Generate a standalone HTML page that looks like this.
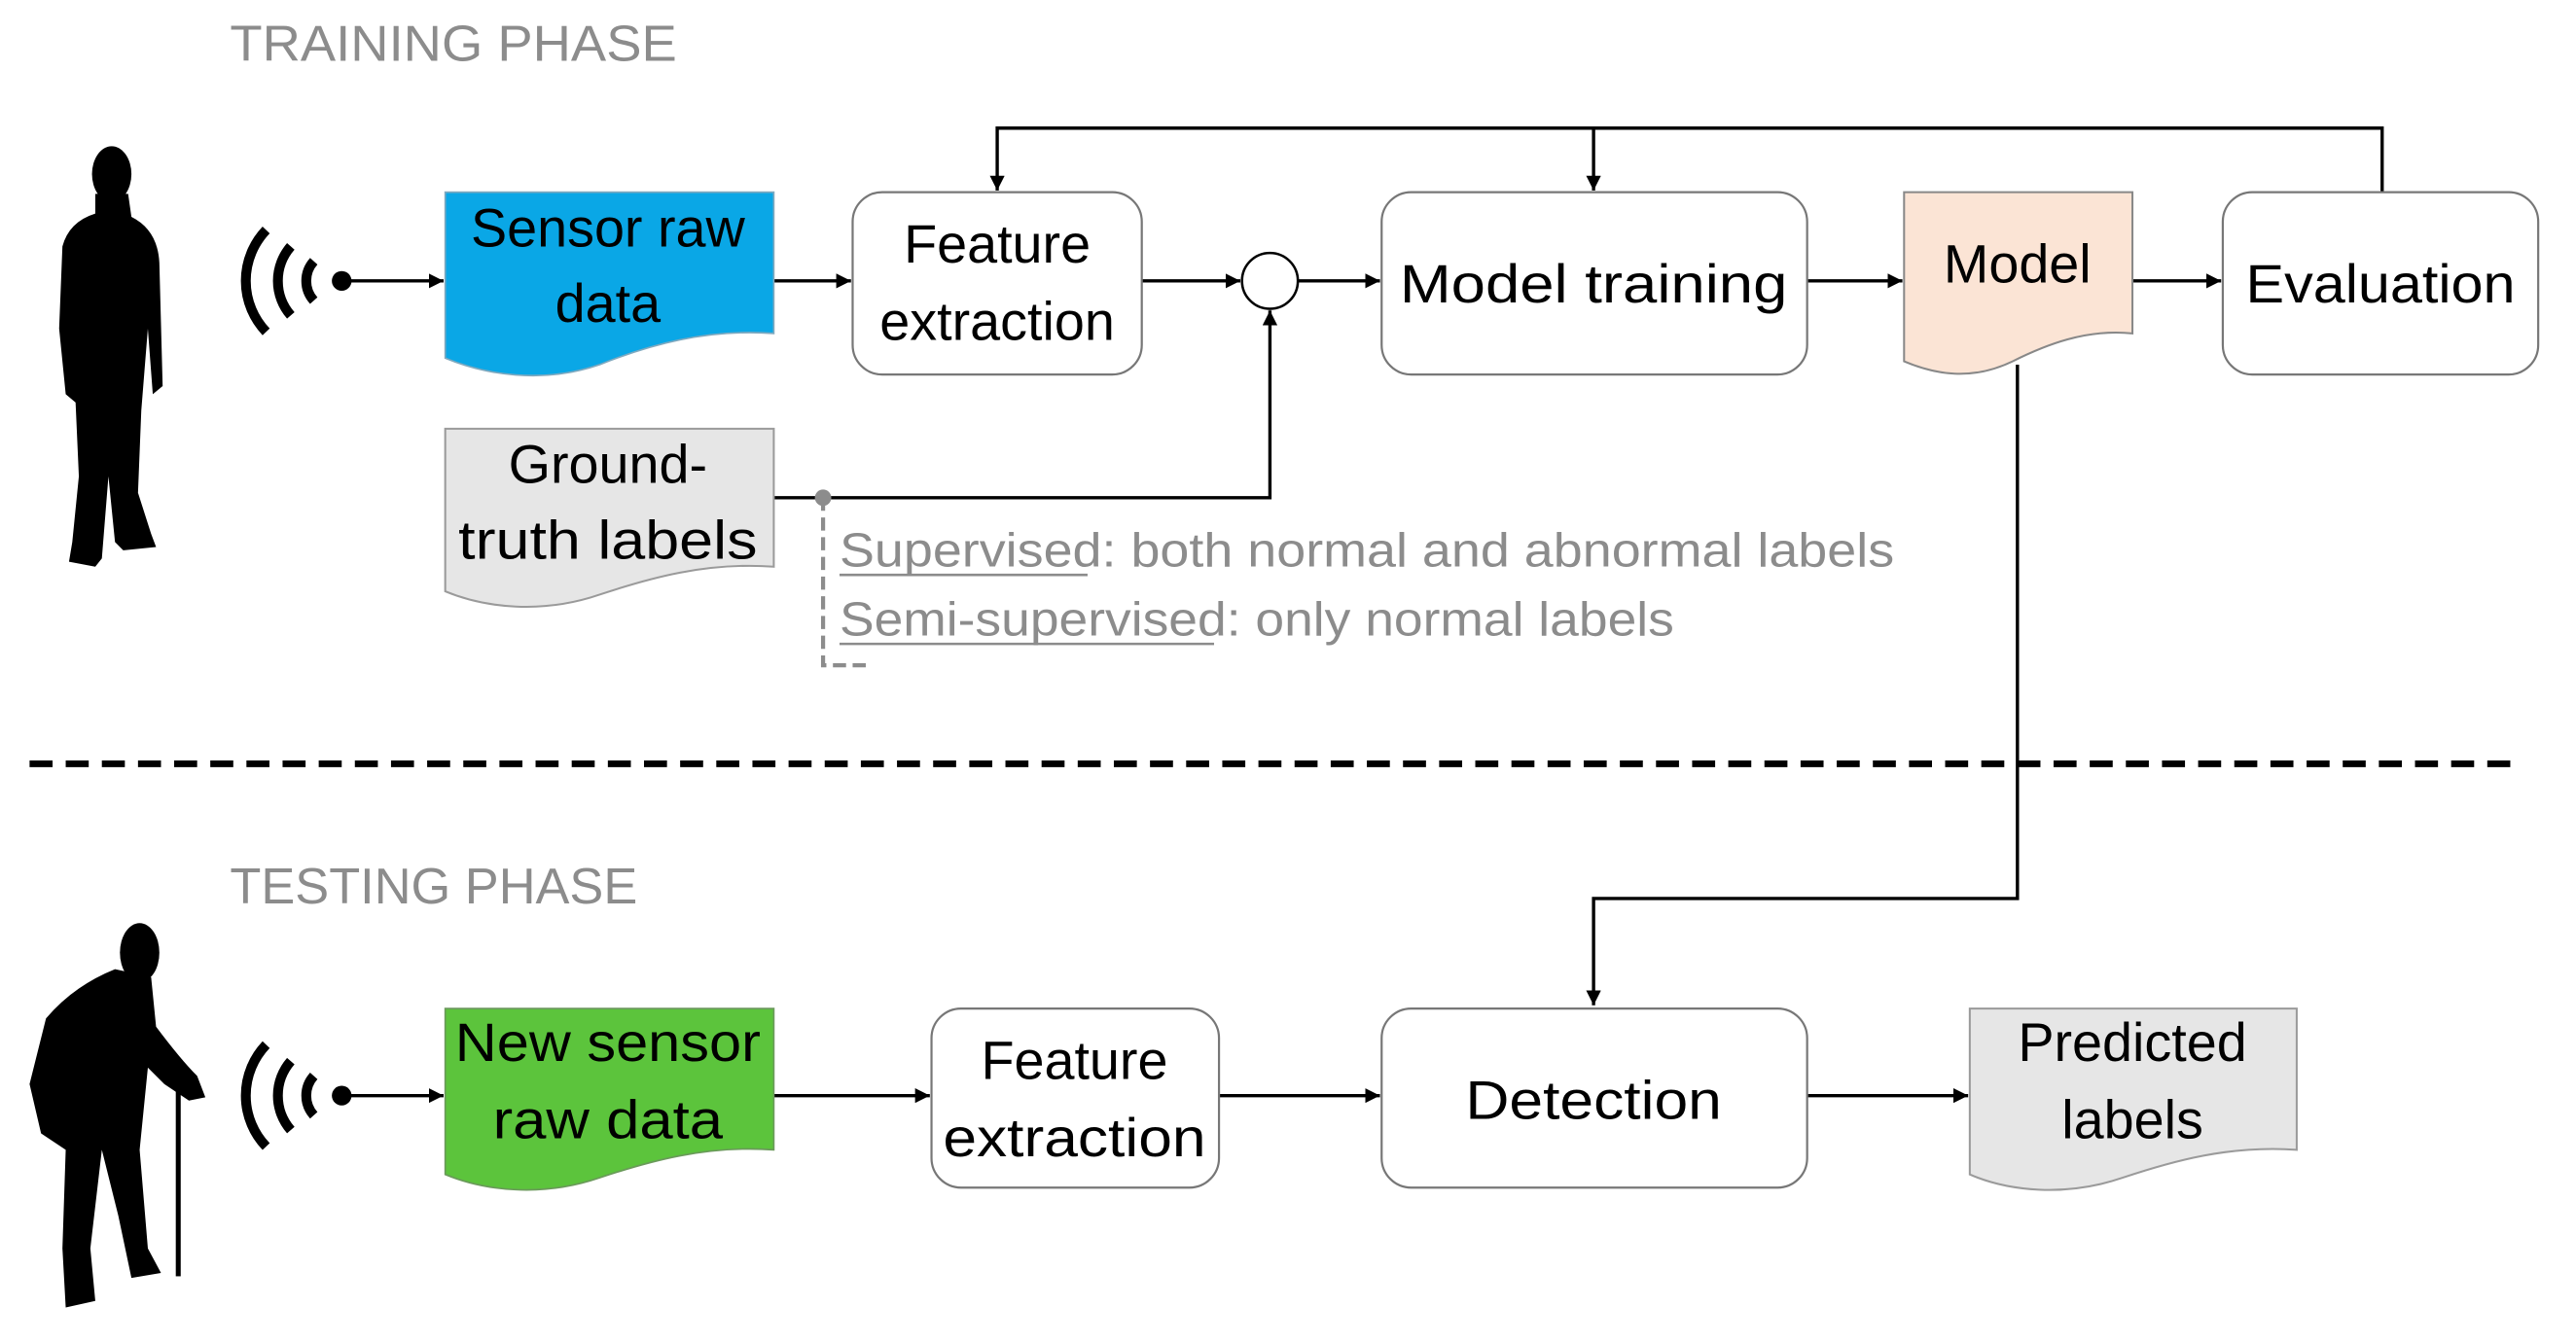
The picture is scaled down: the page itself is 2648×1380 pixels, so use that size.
<!DOCTYPE html>
<html><head><meta charset="utf-8"><style>
html,body{margin:0;padding:0;background:#fff;}
svg{display:block;}
text{font-family:"Liberation Sans",sans-serif;}
</style></head><body>
<svg width="2648" height="1380" viewBox="0 0 1568 817" preserveAspectRatio="none" xmlns="http://www.w3.org/2000/svg">
<defs>
<marker id="ar" viewBox="0 0 10 10" refX="10" refY="5" markerWidth="9" markerHeight="9" markerUnits="userSpaceOnUse" orient="auto"><path d="M0,0 L10,5 L0,10 Z" fill="#000"/></marker>
</defs>
<rect width="1568" height="817" fill="#fff"/>

<text x="140" y="37" font-size="31" fill="#8c8c8c" textLength="272" lengthAdjust="spacingAndGlyphs">TRAINING PHASE</text>
<text x="140" y="550" font-size="31" fill="#8c8c8c" textLength="248" lengthAdjust="spacingAndGlyphs">TESTING PHASE</text>

<!-- standing person -->
<g fill="#000">
<ellipse cx="68" cy="106" rx="12" ry="17"/>
<path d="M58,118 L78,118 L80,132 Q96,140 97,160 L99,235 L93,240 L90,200 L86,250 L84,300 L92,325 L95,333 L75,335 L70,330 L66,290 L62,340 L58,345 L42,342 L44,330 L48,290 L46,245 L40,240 L36,200 L38,150 Q42,135 58,130 Z"/>
</g>
<!-- bent old man -->
<g fill="#000">
<ellipse cx="85" cy="580" rx="12" ry="18"/>
<path d="M70,590 L92,595 L95,625 Q110,645 120,655 L125,668 L115,670 L100,660 L90,650 L85,700 L90,760 L98,775 L80,778 L72,740 L62,700 L55,760 L58,792 L40,796 L38,760 L40,700 L25,690 L18,660 L28,620 Q45,600 70,590 Z"/>
<rect x="107" y="662" width="3" height="115"/>
</g>

<!-- wifi icons -->
<g fill="none" stroke="#000" stroke-width="6">
<path d="M162,140 A45,45 0 0 0 162,202"/>
<path d="M177,150 A32,32 0 0 0 177,192"/>
<path d="M191,159 A18,18 0 0 0 191,183"/>
<path d="M162,636 A45,45 0 0 0 162,698"/>
<path d="M177,646 A32,32 0 0 0 177,688"/>
<path d="M191,655 A18,18 0 0 0 191,679"/>
</g>
<circle cx="208" cy="171" r="6" fill="#000"/>
<circle cx="208" cy="667" r="6" fill="#000"/>

<!-- connectors -->
<g stroke="#000" stroke-width="2" fill="none">
<line x1="208" y1="171" x2="270" y2="171" marker-end="url(#ar)"/>
<line x1="471" y1="171" x2="518" y2="171" marker-end="url(#ar)"/>
<line x1="695" y1="171" x2="755" y2="171" marker-end="url(#ar)"/>
<line x1="790" y1="171" x2="840" y2="171" marker-end="url(#ar)"/>
<line x1="1100" y1="171" x2="1158" y2="171" marker-end="url(#ar)"/>
<line x1="1298" y1="171" x2="1352" y2="171" marker-end="url(#ar)"/>
<polyline points="1450,117 1450,78 607,78 607,116" marker-end="url(#ar)"/>
<line x1="970" y1="78" x2="970" y2="116" marker-end="url(#ar)"/>
<polyline points="471,303 773,303 773,189" marker-end="url(#ar)"/>
<polyline points="1228,222 1228,547 970,547 970,612" marker-end="url(#ar)"/>
<line x1="208" y1="667" x2="270" y2="667" marker-end="url(#ar)"/>
<line x1="471" y1="667" x2="566" y2="667" marker-end="url(#ar)"/>
<line x1="742" y1="667" x2="840" y2="667" marker-end="url(#ar)"/>
<line x1="1100" y1="667" x2="1198" y2="667" marker-end="url(#ar)"/>
</g>
<circle cx="773" cy="171" r="17" fill="#fff" stroke="#000" stroke-width="1.5"/>

<!-- dashed separator -->
<line x1="18" y1="465" x2="1528" y2="465" stroke="#000" stroke-width="4" stroke-dasharray="14,8"/>

<!-- gray dashed bracket -->
<circle cx="501" cy="303" r="5" fill="#8c8c8c"/>
<polyline points="501,303 501,405 530,405" fill="none" stroke="#8c8c8c" stroke-width="2.5" stroke-dasharray="8,4"/>

<!-- documents -->
<path d="M271,117 H471 V203 C430,200 395,210 365,222 C330,234 295,228 271,218 Z" fill="#0aa7e6" stroke="#7fa9bf" stroke-width="1"/>
<path d="M271,261 H471 V345 C430,342 395,352 365,362 C330,374 295,370 271,360 Z" fill="#e6e6e6" stroke="#9a9a9a" stroke-width="1.2"/>
<path d="M1159,117 H1298 V203 C1270,200 1245,210 1225,220 C1200,232 1178,228 1159,220 Z" fill="#fbe4d5" stroke="#888" stroke-width="1.2"/>
<path d="M271,614 H471 V700 C430,697 395,707 365,717 C330,729 295,725 271,715 Z" fill="#5cc43c" stroke="#6a9a5a" stroke-width="1"/>
<path d="M1199,614 H1398 V700 C1357,697 1322,707 1292,717 C1257,729 1222,725 1199,715 Z" fill="#e6e6e6" stroke="#9a9a9a" stroke-width="1.2"/>

<!-- rounded boxes -->
<g fill="#fff" stroke="#777" stroke-width="1.3">
<rect x="519" y="117" width="176" height="111" rx="18"/>
<rect x="841" y="117" width="259" height="111" rx="18"/>
<rect x="1353" y="117" width="192" height="111" rx="18"/>
<rect x="567" y="614" width="175" height="109" rx="18"/>
<rect x="841" y="614" width="259" height="109" rx="18"/>
</g>

<!-- labels -->
<g font-size="33" fill="#000" text-anchor="middle">
<text x="370" y="150">Sensor raw</text>
<text x="370" y="196">data</text>
<text x="607" y="160">Feature</text>
<text x="607" y="207">extraction</text>
<text x="970" y="184" textLength="236" lengthAdjust="spacingAndGlyphs">Model training</text>
<text x="1228" y="172">Model</text>
<text x="1449" y="184" textLength="164" lengthAdjust="spacingAndGlyphs">Evaluation</text>
<text x="370" y="294">Ground-</text>
<text x="370" y="340" textLength="182" lengthAdjust="spacingAndGlyphs">truth labels</text>
<text x="370" y="646" textLength="186" lengthAdjust="spacingAndGlyphs">New sensor</text>
<text x="370" y="693" textLength="140" lengthAdjust="spacingAndGlyphs">raw data</text>
<text x="654" y="657">Feature</text>
<text x="654" y="704" textLength="160" lengthAdjust="spacingAndGlyphs">extraction</text>
<text x="970" y="681" textLength="156" lengthAdjust="spacingAndGlyphs">Detection</text>
<text x="1298" y="646">Predicted</text>
<text x="1298" y="693">labels</text>
</g>

<g font-size="29" fill="#8c8c8c">
<text x="511" y="345" textLength="642" lengthAdjust="spacingAndGlyphs">Supervised: both normal and abnormal labels</text>
<text x="511" y="387" textLength="508" lengthAdjust="spacingAndGlyphs">Semi-supervised: only normal labels</text>
</g>
<line x1="511" y1="350" x2="662" y2="350" stroke="#8c8c8c" stroke-width="1.5"/>
<line x1="511" y1="392" x2="739" y2="392" stroke="#8c8c8c" stroke-width="1.5"/>
</svg>
</body></html>
